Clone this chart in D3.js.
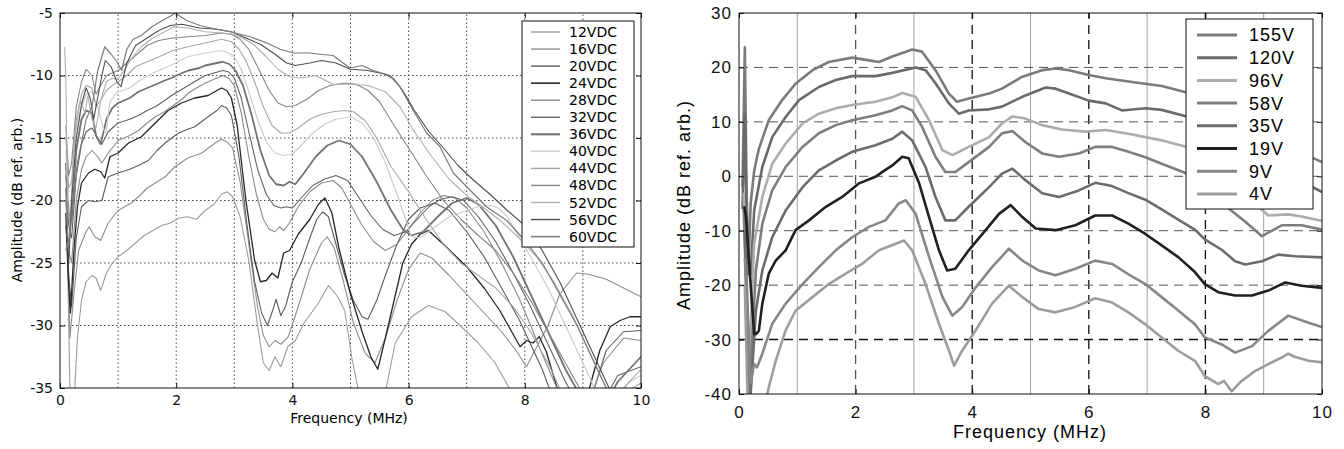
<!DOCTYPE html>
<html>
<head>
<meta charset="utf-8">
<script src="https://cdn.jsdelivr.net/npm/d3@7"></script>
<style>
  body { margin: 0; background: #fff; }
  svg { display: block; }
  .tick text { fill: #111; }
</style>
</head>
<body>
<div id="chart"></div>
<script>
// ---------- data: left panel (frequency MHz, amplitude dB) ----------
const leftNames = ["12VDC", "16VDC", "20VDC", "24VDC", "28VDC", "32VDC", "36VDC",
                   "40VDC", "44VDC", "48VDC", "52VDC", "56VDC", "60VDC"];

const l12 = [[0.12,-22],[0.17,-35],[0.22,-38],[0.3,-31],[0.37,-28],[0.45,-26.5],[0.55,-26],[0.62,-26.2],[0.7,-27.2],[0.8,-25.8],[0.9,-25],[1.0,-24.5],[1.15,-24],[1.3,-23.4],[1.45,-22.8],[1.6,-22.4],[1.75,-22],[1.9,-21.8],[2.05,-21.4],[2.2,-21.3],[2.35,-21.5],[2.5,-20.8],[2.65,-20.3],[2.78,-19.5],[2.88,-19.3],[2.97,-19.7],[3.1,-21.3],[3.25,-24.8],[3.4,-30],[3.5,-33],[3.6,-33.6],[3.7,-32.5],[3.8,-33.3],[3.92,-31.7],[4.05,-31.2],[4.2,-29.8],[4.45,-28.2],[4.62,-26.8],[4.78,-27.7],[4.9,-28.8],[5.02,-32.5],[5.15,-35.5],[5.3,-37],[5.55,-36.5],[5.77,-31.4],[6.05,-29.3],[6.34,-28.4],[6.63,-28.9],[6.91,-30.1],[7.2,-31.4],[7.49,-33],[7.72,-34.9],[7.95,-36.8],[8.4,-38],[9.2,-38],[9.6,-35.8],[10,-34.6]];
const l16 = [[0.12,-20],[0.17,-31],[0.25,-27],[0.32,-24],[0.37,-23.4],[0.45,-22.5],[0.5,-22.1],[0.6,-22.9],[0.7,-23.2],[0.83,-21.8],[1.0,-20.8],[1.15,-20.4],[1.23,-20.2],[1.35,-19.7],[1.5,-19],[1.64,-18.6],[1.81,-18.1],[1.98,-17.3],[2.2,-16.6],[2.44,-16.2],[2.67,-15.4],[2.78,-15.1],[2.87,-15.3],[2.97,-15.8],[3.1,-18.5],[3.25,-23.5],[3.4,-28.5],[3.5,-30.8],[3.6,-31.7],[3.7,-31.2],[3.8,-31.5],[3.93,-30.9],[4.1,-28.5],[4.3,-25.5],[4.5,-23.4],[4.6,-22.9],[4.72,-23.8],[4.88,-26.5],[5.05,-29.8],[5.25,-32.2],[5.42,-33],[5.6,-31],[5.8,-28],[6.0,-25.5],[6.2,-24.2],[6.4,-24.6],[6.7,-26],[7.0,-27.5],[7.3,-29],[7.6,-30.5],[7.85,-32],[8.03,-33.3],[8.15,-32.2],[8.4,-30],[8.6,-27.5],[8.89,-25.8],[9.1,-25.9],[9.4,-26.3],[9.7,-27],[10,-27.7]];
const l20 = [[0.1,-19],[0.15,-26],[0.2,-28.5],[0.28,-23],[0.37,-20.5],[0.49,-20],[0.6,-20.1],[0.72,-20],[0.83,-18.1],[1.0,-17.8],[1.2,-17.5],[1.35,-17.2],[1.52,-16.8],[1.67,-16],[1.81,-15.4],[2.04,-14.6],[2.2,-14.3],[2.32,-14.1],[2.55,-13.3],[2.7,-12.8],[2.78,-12.4],[2.87,-12.6],[2.95,-13.2],[3.08,-16.5],[3.22,-22],[3.35,-26.5],[3.47,-29],[3.57,-30],[3.66,-28.8],[3.72,-27.9],[3.8,-29.2],[3.88,-28.5],[4.0,-26.5],[4.15,-25],[4.3,-23],[4.42,-21.5],[4.52,-20.9],[4.62,-21.3],[4.75,-23.5],[4.9,-26],[5.05,-28],[5.2,-29.3],[5.3,-29.5],[5.45,-28],[5.6,-26],[5.8,-23.5],[6.0,-21.5],[6.2,-20.6],[6.45,-20.2],[6.7,-20.8],[7.0,-22.5],[7.3,-24.5],[7.6,-27],[7.9,-29.5],[8.1,-31.5],[8.3,-33.5],[8.5,-36],[9.0,-37],[9.2,-35],[9.4,-32],[9.7,-30.5],[10,-30.4]];
const l24 = [[0.1,-21],[0.14,-26],[0.18,-29],[0.24,-24],[0.3,-20.5],[0.37,-18.6],[0.49,-17.8],[0.6,-17.5],[0.7,-17.7],[0.77,-18.2],[0.86,-16.5],[1.0,-16.2],[1.18,-15.4],[1.4,-14.9],[1.64,-13.8],[1.86,-12.8],[2.09,-12.2],[2.32,-11.8],[2.55,-11.6],[2.7,-11.2],[2.78,-11.0],[2.87,-11.2],[2.95,-11.8],[3.05,-14],[3.2,-20],[3.35,-24.8],[3.45,-26.5],[3.55,-26.4],[3.65,-25.8],[3.75,-26.2],[3.85,-24.2],[3.95,-24],[4.1,-22.7],[4.3,-21.5],[4.45,-20.3],[4.56,-19.8],[4.68,-21],[4.8,-23.8],[5.0,-27.5],[5.2,-30.5],[5.35,-32.5],[5.47,-33.5],[5.6,-31],[5.75,-28],[5.9,-25],[6.05,-23.5],[6.2,-22.7],[6.34,-22.4],[6.6,-23.5],[7.0,-25.3],[7.3,-27],[7.57,-28.8],[7.75,-30.3],[7.92,-31.7],[8.03,-31.2],[8.14,-31.4],[8.25,-30.9],[8.37,-32.1],[8.55,-34.9],[8.7,-37],[9.0,-37],[9.12,-34.9],[9.29,-32],[9.47,-30.1],[9.64,-29.6],[9.81,-29.3],[10,-29.3]];
const l28 = [[0.1,-20],[0.15,-24],[0.2,-25],[0.28,-20],[0.37,-17.5],[0.45,-16.5],[0.55,-16],[0.65,-16.5],[0.72,-17],[0.83,-16.2],[1.0,-15.2],[1.2,-14.8],[1.35,-14.4],[1.5,-13.8],[1.64,-13.3],[1.8,-12.9],[1.92,-12.5],[2.1,-11.9],[2.21,-11.4],[2.35,-11.0],[2.5,-10.6],[2.65,-10.3],[2.8,-10.0],[2.9,-10.2],[3.0,-10.8],[3.12,-13],[3.25,-16.5],[3.38,-19.5],[3.5,-21.5],[3.6,-22.3],[3.7,-22.5],[3.78,-22.1],[3.85,-22.4],[3.95,-21.8],[4.1,-20.5],[4.3,-19.3],[4.5,-18.6],[4.7,-18.4],[4.85,-19],[5.0,-20.3],[5.2,-22],[5.4,-23.3],[5.6,-24],[5.8,-23.5],[6.0,-22.3],[6.2,-21],[6.4,-20],[6.6,-19.6],[6.8,-19.8],[7.0,-20.6],[7.3,-22.5],[7.6,-25],[7.9,-27.8],[8.1,-30],[8.3,-32.3],[8.6,-35.5],[8.9,-37],[9.15,-35.5],[9.35,-33],[9.7,-31],[10,-31.2]];
const l32 = [[0.1,-18],[0.15,-22],[0.2,-23],[0.28,-18],[0.37,-15.5],[0.45,-14.5],[0.55,-14.2],[0.65,-15],[0.72,-15.5],[0.83,-14.5],[1.0,-13.8],[1.2,-13.5],[1.35,-13.2],[1.5,-12.8],[1.64,-12.5],[1.8,-12],[1.92,-11.6],[2.1,-11.1],[2.21,-10.8],[2.35,-10.4],[2.5,-10.0],[2.65,-9.8],[2.8,-9.6],[2.9,-9.7],[3.0,-10.2],[3.12,-11.8],[3.25,-14.5],[3.4,-17.5],[3.55,-19.5],[3.68,-20.4],[3.8,-20.6],[3.9,-20.5],[4.0,-20.6],[4.15,-19.8],[4.35,-18.8],[4.55,-18.3],[4.75,-18.0],[4.95,-18.4],[5.15,-19.8],[5.35,-21.2],[5.55,-22.3],[5.75,-22.8],[5.95,-22.5],[6.15,-21.5],[6.35,-20.5],[6.55,-19.9],[6.75,-19.7],[6.95,-20],[7.2,-21.3],[7.5,-23.3],[7.8,-25.8],[8.1,-28.5],[8.4,-31.5],[8.7,-34.5],[9.0,-37],[9.3,-36.5],[9.6,-34],[10,-33.3]];
const l36 = [[0.1,-17],[0.15,-21],[0.2,-21.5],[0.28,-16],[0.37,-13.5],[0.45,-12.8],[0.55,-13],[0.62,-14.8],[0.7,-15.5],[0.8,-13.5],[0.9,-12.6],[1.0,-12.2],[1.2,-11.8],[1.35,-11.3],[1.5,-11.0],[1.66,-10.7],[1.8,-10.4],[1.92,-10.2],[2.1,-9.8],[2.21,-9.6],[2.4,-9.4],[2.5,-9.2],[2.7,-9.0],[2.8,-8.9],[2.92,-9.1],[3.02,-9.6],[3.15,-10.8],[3.3,-13.2],[3.45,-16],[3.6,-18],[3.72,-18.7],[3.85,-18.8],[3.95,-18.5],[4.05,-18.7],[4.2,-17.8],[4.4,-16.5],[4.6,-15.6],[4.8,-15.2],[5.0,-15.5],[5.2,-16.5],[5.45,-18.5],[5.7,-20.8],[5.9,-22.3],[6.05,-22.8],[6.25,-22.5],[6.5,-21.3],[6.75,-20.2],[7.0,-19.8],[7.2,-20.3],[7.5,-22],[7.8,-24.5],[8.1,-27.5],[8.4,-30.5],[8.7,-33.5],[9.0,-36],[9.3,-37],[9.6,-34.5],[10,-32.5]];
const l40 = [[0.1,-16],[0.15,-20],[0.2,-20],[0.28,-15],[0.37,-12.5],[0.45,-11.5],[0.55,-11.3],[0.65,-12.5],[0.75,-14.3],[0.79,-14.6],[0.86,-12.1],[0.95,-11.5],[1.0,-11.3],[1.2,-11],[1.37,-10.4],[1.6,-9.8],[1.9,-9.2],[2.2,-8.5],[2.5,-8.2],[2.78,-8.0],[2.9,-8.2],[3.0,-8.5],[3.12,-9.5],[3.25,-11.3],[3.4,-13.5],[3.55,-15.3],[3.7,-16.2],[3.85,-16.4],[4.0,-16.3],[4.15,-15.6],[4.35,-14.6],[4.55,-13.9],[4.75,-13.5],[5.0,-13.3],[5.2,-13.8],[5.4,-15],[5.6,-17],[5.8,-19.5],[5.95,-21.5],[6.05,-22.9],[6.2,-23],[6.4,-22.3],[6.7,-21.3],[7.0,-20.8],[7.2,-20.5],[7.4,-20.4],[7.55,-20.6],[7.7,-21.3],[7.85,-22.5],[8.1,-24.5],[8.4,-27],[8.7,-30],[9.0,-33],[9.25,-35.5],[9.5,-36.5],[9.8,-34.5],[10,-34]];
const l44 = [[0.1,-15],[0.15,-19],[0.2,-18.5],[0.28,-13.5],[0.37,-11.5],[0.45,-10.8],[0.55,-11],[0.62,-12.5],[0.7,-12],[0.8,-11.2],[0.9,-10.8],[1.0,-10.5],[1.15,-10],[1.3,-9.3],[1.5,-8.9],[1.66,-8.6],[1.94,-8.0],[2.2,-7.7],[2.5,-7.4],[2.78,-7.1],[2.95,-7.3],[3.08,-7.9],[3.2,-8.8],[3.35,-10.5],[3.5,-12.5],[3.65,-14],[3.8,-14.6],[3.95,-14.6],[4.1,-14.2],[4.3,-13.5],[4.5,-13.1],[4.7,-12.9],[4.9,-12.8],[5.05,-12.9],[5.25,-13.6],[5.45,-15],[5.7,-17.3],[6.0,-19.3],[6.3,-21.5],[6.6,-23.5],[6.9,-25],[7.2,-26],[7.5,-27],[7.8,-28.5],[8.1,-30.5],[8.4,-33],[8.7,-36],[9.2,-37.5],[9.6,-35.5],[10,-33.5]];
const l48 = [[0.1,-14],[0.15,-18],[0.2,-17],[0.28,-12.5],[0.37,-10.5],[0.45,-9.5],[0.55,-10],[0.62,-11.5],[0.7,-10.8],[0.8,-10],[0.9,-9.8],[1.0,-9.6],[1.15,-9],[1.35,-8.2],[1.5,-7.6],[1.7,-7.2],[1.94,-7.0],[2.2,-6.9],[2.5,-6.8],[2.78,-6.6],[2.95,-6.7],[3.1,-7.1],[3.25,-7.9],[3.4,-9.3],[3.6,-11.2],[3.75,-12.2],[3.9,-12.5],[4.05,-12.4],[4.25,-11.9],[4.45,-11.2],[4.65,-10.8],[4.9,-10.6],[5.1,-10.7],[5.3,-11.2],[5.5,-12.1],[5.75,-14],[6.0,-15.8],[6.3,-18],[6.6,-20],[6.9,-21.5],[7.2,-22.8],[7.5,-24],[7.8,-25.8],[8.1,-28],[8.4,-30.5],[8.7,-33],[9.0,-35.5],[9.3,-37.5],[9.7,-36.5],[10,-35.5]];
const l52 = [[0.08,-7.7],[0.1,-10],[0.13,-20],[0.17,-22],[0.25,-15],[0.35,-12],[0.43,-13],[0.48,-11.6],[0.55,-13.5],[0.62,-14.2],[0.7,-12],[0.8,-10.5],[0.9,-10.2],[1.0,-10.3],[1.1,-9.6],[1.25,-8.5],[1.4,-7.7],[1.6,-7.0],[1.8,-6.5],[1.96,-6.1],[2.2,-6.2],[2.5,-6.5],[2.78,-6.6],[2.95,-6.7],[3.15,-7],[3.35,-7.6],[3.55,-8.5],[3.75,-9.5],[3.95,-10.1],[4.15,-10.2],[4.4,-10],[4.7,-10.7],[5.0,-10.7],[5.3,-10.8],[5.6,-11.3],[5.85,-12.5],[6.1,-14.5],[6.4,-16.5],[6.7,-18.3],[7.0,-19.6],[7.3,-20.6],[7.6,-21.7],[7.9,-23],[8.2,-24.5],[8.5,-26.5],[8.8,-29],[9.1,-32],[9.4,-35],[9.7,-37],[10,-37.5]];
const l56 = [[0.1,-22],[0.15,-25],[0.2,-20],[0.28,-15],[0.37,-12.3],[0.45,-11],[0.52,-11.8],[0.58,-13.5],[0.64,-12],[0.72,-10],[0.78,-8.8],[0.88,-9.3],[0.98,-10.5],[1.05,-10.9],[1.15,-9],[1.3,-7.6],[1.5,-7.0],[1.7,-6.4],[1.9,-6.0],[2.1,-5.9],[2.4,-6.2],[2.7,-6.3],[2.95,-6.5],[3.2,-7.0],[3.45,-7.5],[3.7,-8.3],[3.9,-9.0],[4.05,-9.2],[4.3,-9.0],[4.5,-8.8],[4.75,-9.0],[5.0,-9.5],[5.3,-9.6],[5.6,-9.9],[5.75,-10.3],[5.9,-11.2],[6.1,-12.8],[6.35,-14.5],[6.6,-15.8],[6.85,-17.2],[7.1,-18.3],[7.4,-19.5],[7.7,-20.8],[8.0,-22],[8.3,-24],[8.6,-26.5],[8.9,-29.5],[9.2,-32.5],[9.5,-35.5],[9.8,-37.5],[10,-38]];
const l60 = [[0.1,-24],[0.17,-22.8],[0.3,-17],[0.45,-13.5],[0.55,-12.5],[0.65,-9.6],[0.77,-7.7],[0.88,-8.3],[0.98,-8.9],[1.06,-9.6],[1.15,-7.9],[1.26,-7.1],[1.4,-6.8],[1.58,-6.1],[1.69,-5.8],[1.8,-5.5],[1.92,-5.2],[1.98,-5.0],[2.18,-5.6],[2.41,-6.0],[2.7,-6.3],[2.93,-6.5],[3.27,-6.9],[3.56,-7.4],[3.79,-7.9],[4.02,-8.2],[4.3,-8.2],[4.47,-8.3],[4.7,-8.4],[4.99,-9.4],[5.2,-9.2],[5.39,-9.6],[5.68,-10],[5.85,-10.9],[6.08,-12.8],[6.31,-14.6],[6.54,-15.7],[6.77,-17.8],[7.0,-18.9],[7.34,-20.5],[7.69,-21.6],[8.0,-23.2],[8.3,-25],[8.6,-27.5],[8.9,-30],[9.2,-33],[9.5,-36],[9.8,-38]];

const leftData = [l12, l16, l20, l24, l28, l32, l36, l40, l44, l48, l52, l56, l60];

// ---------- data: right panel ----------
const rightNames = ["155V", "120V", "96V", "58V", "35V", "19V", "9V", "4V"];

const r155 = [[0.06,-2],[0.1,23.7],[0.13,-2],[0.16,-18],[0.2,-5],[0.26,1],[0.34,5],[0.51,10.3],[0.74,14],[0.97,17],[1.26,19.5],[1.54,21],[1.94,21.8],[2.23,21.3],[2.4,21],[2.63,22],[2.97,23.3],[3.14,22.9],[3.37,19.5],[3.6,15.2],[3.74,13.7],[3.94,14.3],[4.29,15.2],[4.51,16.1],[4.86,18.3],[5.2,19.5],[5.43,19.8],[5.66,19.5],[6.0,18.6],[6.29,18.0],[6.68,17.4],[7.25,16.6],[7.68,15.4],[8.2,12.5],[8.8,9],[9.4,5.5],[10,2.6]];
const r120 = [[0.06,-6],[0.1,11.5],[0.14,-15],[0.2,-18],[0.26,-6.3],[0.4,1.7],[0.57,7.2],[0.8,10.9],[1.03,14],[1.37,16.4],[1.66,17.7],[1.94,18.4],[2.34,18.4],[2.63,19.0],[3.03,20],[3.2,19.5],[3.37,17.1],[3.6,13.4],[3.77,11.5],[3.94,12.1],[4.29,12.3],[4.51,12.8],[4.86,14.6],[5.26,16.3],[5.43,16.1],[5.66,15.2],[6.0,13.9],[6.29,13.4],[6.57,12.1],[6.97,12.5],[7.25,12.2],[7.68,11.0],[8.2,8.5],[8.8,4.5],[9.4,0.5],[10,-2.9]];
const r96 = [[0.08,-3],[0.17,-36],[0.26,-12.4],[0.4,-3.8],[0.57,2.3],[0.8,6.0],[1.09,9.7],[1.37,11.5],[1.66,12.5],[1.94,13.1],[2.34,13.7],[2.63,14.5],[2.8,15.3],[3.03,14.6],[3.26,10.3],[3.49,4.8],[3.66,3.9],[3.94,5.4],[4.29,7.2],[4.51,9.7],[4.69,11.0],[4.91,10.6],[5.2,9.4],[5.54,8.6],[5.94,8.2],[6.29,8.5],[6.68,7.8],[7.25,6.6],[7.68,5.4],[8.3,1],[8.9,-5.5],[9.08,-7.2],[9.42,-7.0],[9.65,-7.4],[10,-8.2]];
const r58 = [[0.08,-6],[0.18,-40],[0.29,-17.3],[0.4,-8.7],[0.57,-2.6],[0.8,1.7],[1.09,5.4],[1.37,7.9],[1.66,9.4],[1.94,10.3],[2.34,11.2],[2.63,12.1],[2.8,12.9],[2.97,12.1],[3.14,9.1],[3.37,3.6],[3.54,0.8],[3.71,0.8],[3.94,2.6],[4.29,5.4],[4.51,7.9],[4.69,8.3],[4.91,6.3],[5.2,4.2],[5.49,3.6],[5.83,4.2],[6.11,5.4],[6.4,5.4],[6.68,4.5],[6.97,3.5],[7.25,2.3],[7.68,0.5],[8.1,-3],[8.4,-5.9],[8.68,-8.3],[8.97,-11],[9.31,-9],[9.65,-9],[10,-9.8]];
const r35 = [[0.1,-10],[0.2,-40],[0.29,-24.7],[0.4,-17.3],[0.57,-11.2],[0.8,-6.3],[1.09,-2.0],[1.37,1.1],[1.66,2.9],[1.94,4.5],[2.34,5.7],[2.63,6.9],[2.8,8.2],[2.97,6.6],[3.2,1.7],[3.37,-3.8],[3.54,-8.1],[3.71,-8.1],[3.94,-5.6],[4.29,-2.0],[4.51,0.5],[4.69,1.4],[4.91,-0.7],[5.2,-3.1],[5.49,-3.8],[5.83,-2.6],[6.11,-1.2],[6.4,-1.8],[6.68,-3.1],[6.97,-4.3],[7.25,-6.1],[7.54,-8],[7.82,-9.8],[7.99,-11.6],[8.28,-13.5],[8.51,-15.6],[8.68,-16.2],[8.97,-15.6],[9.25,-14.4],[9.54,-14.7],[10,-14.9]];
const r19 = [[0.09,-5.5],[0.12,-7.5],[0.2,-20],[0.26,-29],[0.29,-29],[0.34,-28.4],[0.4,-23.4],[0.51,-17.9],[0.63,-15.5],[0.8,-13.6],[0.97,-9.9],[1.2,-8.1],[1.49,-5.6],[1.77,-3.8],[2.06,-1.3],[2.34,-0.1],[2.46,0.8],[2.63,2.0],[2.8,3.6],[2.91,3.3],[3.09,-1.3],[3.26,-7.5],[3.43,-13.6],[3.57,-17.3],[3.71,-17.0],[3.94,-13.6],[4.23,-9.9],[4.46,-6.9],[4.66,-5.3],[4.86,-7.5],[5.09,-9.6],[5.43,-9.9],[5.77,-9.0],[6.11,-7.2],[6.4,-7.2],[6.68,-8.7],[6.97,-10.6],[7.25,-12.7],[7.54,-14.9],[7.82,-17.6],[7.99,-19.8],[8.22,-21.3],[8.51,-21.9],[8.8,-21.9],[9.08,-21.0],[9.37,-19.5],[9.65,-20.1],[10,-20.5]];
const r9 = [[0.1,-15],[0.2,-38],[0.26,-34.5],[0.31,-35.1],[0.4,-32.6],[0.57,-27.1],[0.8,-23.4],[1.09,-19.8],[1.37,-16.7],[1.66,-13.6],[1.94,-11.2],[2.23,-9.3],[2.51,-8.1],[2.74,-5.0],[2.86,-4.4],[3.03,-6.9],[3.26,-14.8],[3.49,-22.2],[3.66,-25.6],[3.83,-24.0],[4.06,-20.4],[4.34,-16.7],[4.63,-13.3],[4.86,-15.5],[5.14,-17.3],[5.43,-18.2],[5.77,-17.0],[6.11,-15.5],[6.4,-16.1],[6.68,-18],[6.97,-19.8],[7.25,-22.2],[7.54,-24.7],[7.82,-27.2],[7.99,-29.6],[8.28,-30.9],[8.51,-32.4],[8.8,-31.2],[9.08,-28.4],[9.42,-25.6],[9.77,-26.9],[10,-27.7]];
const r4 = [[0.1,-20],[0.15,-42],[0.45,-42],[0.51,-38.8],[0.63,-33.9],[0.8,-28.3],[0.97,-24.7],[1.26,-22.2],[1.54,-19.8],[1.83,-17.9],[2.11,-16.1],[2.4,-13.6],[2.69,-12.4],[2.83,-11.8],[2.97,-13.6],[3.2,-19.8],[3.43,-27.1],[3.6,-32.0],[3.69,-34.8],[3.83,-32.0],[4.06,-28.3],[4.34,-23.4],[4.63,-20.1],[4.86,-22.2],[5.14,-24.4],[5.43,-25],[5.77,-24.0],[6.11,-22.4],[6.4,-23.2],[6.68,-25],[6.97,-27.2],[7.25,-29.6],[7.54,-32.1],[7.82,-33.9],[7.99,-36.7],[8.22,-38.2],[8.32,-37.6],[8.45,-39.5],[8.62,-37.6],[8.85,-35.8],[9.08,-34.5],[9.31,-33.3],[9.42,-32.6],[9.54,-33.2],[9.77,-33.9],[10,-34.2]];

const rightData = [r155, r120, r96, r58, r35, r19, r9, r4];

// ticks
const leftXTicks = [0, 2, 4, 6, 8, 10];
const leftYTicks = [-35, -30, -25, -20, -15, -10, -5];
const rightXTicks = [0, 2, 4, 6, 8, 10];
const rightYTicks = [-40, -30, -20, -10, 0, 10, 20, 30];

// ---------- styles ----------
const leftColors = ["#9c9c9c", "#8e8e8e", "#5c5c5c", "#262626", "#8a8a8a", "#626262", "#737373",
                    "#cdcdcd", "#a6a6a6", "#868686", "#b0b0b0", "#4e4e4e", "#7a7a7a"];
const leftWidths = [1.1, 1.1, 1.1, 1.3, 1.1, 1.1, 1.8, 1.2, 1.1, 1.1, 1.1, 1.1, 1.2];
const rightColors = ["#7b7b7b", "#6a6a6a", "#acacac", "#7e7e7e", "#6c6c6c", "#202020", "#878787", "#9d9d9d"];

const W = 1344, H = 449;
const svg = d3.select("#chart").append("svg")
    .attr("width", W)
    .attr("height", H);

// ---------- left panel ----------
var xL = d3.scaleLinear().domain([0, 10]).range([60, 641]);
var yL = d3.scaleLinear().domain([-35, -5]).range([388, 13]);

svg.append("clipPath").attr("id", "clipL")
    .append("rect")
    .attr("x", 60).attr("y", 13).attr("width", 581).attr("height", 375);

var gL = svg.append("g").attr("font-family", "'DejaVu Sans', Arial, sans-serif");

// dotted grid
gL.append("g").selectAll("line")
    .data(d3.range(1, 10))
    .enter().append("line")
    .attr("x1", d => xL(d)).attr("x2", d => xL(d))
    .attr("y1", yL(-35)).attr("y2", yL(-5))
    .attr("stroke", "#333").attr("stroke-width", 0.9)
    .attr("stroke-dasharray", "1.5,2.5");

gL.append("g").selectAll("line")
    .data([-30, -25, -20, -15, -10])
    .enter().append("line")
    .attr("x1", xL(0)).attr("x2", xL(10))
    .attr("y1", d => yL(d)).attr("y2", d => yL(d))
    .attr("stroke", "#333").attr("stroke-width", 0.9)
    .attr("stroke-dasharray", "1.5,2.5");

var lineL = d3.line().x(d => xL(d[0])).y(d => yL(d[1]));

gL.append("g").attr("clip-path", "url(#clipL)")
    .selectAll("path")
    .data(leftData)
    .enter().append("path")
    .attr("d", lineL)
    .attr("fill", "none")
    .attr("stroke", (d, i) => leftColors[i])
    .attr("stroke-width", (d, i) => leftWidths[i])
    .attr("stroke-linejoin", "round");

// axes (ticks pointing inward)
function styleAxis(g, size) {
  g.select(".domain").remove();
  g.selectAll(".tick line").attr("stroke", "#111");
  g.selectAll(".tick text").attr("font-size", size);
}

gL.append("g").attr("transform", "translate(0,388)")
    .call(d3.axisBottom(xL).tickValues(leftXTicks).tickSizeInner(-5).tickSizeOuter(0).tickPadding(7))
    .call(g => styleAxis(g, "14px"))
    .attr("font-family", null);
gL.append("g").attr("transform", "translate(0,13)")
    .call(d3.axisTop(xL).tickValues(leftXTicks).tickSizeInner(-5).tickSizeOuter(0).tickFormat(""))
    .call(g => styleAxis(g, "14px"));
gL.append("g").attr("transform", "translate(60,0)")
    .call(d3.axisLeft(yL).tickValues(leftYTicks).tickSizeInner(-5).tickSizeOuter(0).tickPadding(7)
          .tickFormat(d3.format("d")))
    .call(g => styleAxis(g, "14px"))
    .attr("font-family", null);
gL.append("g").attr("transform", "translate(641,0)")
    .call(d3.axisRight(yL).tickValues(leftYTicks).tickSizeInner(-5).tickSizeOuter(0).tickFormat(""))
    .call(g => styleAxis(g, "14px"));

gL.selectAll(".tick text").text(function () { return this.textContent.replace("\u2212", "-"); });

gL.append("rect")
    .attr("x", 60).attr("y", 13).attr("width", 581).attr("height", 375)
    .attr("fill", "none").attr("stroke", "#111").attr("stroke-width", 1);

// titles
gL.append("text")
    .attr("x", 349).attr("y", 423)
    .attr("text-anchor", "middle")
    .attr("font-size", "14px")
    .text("Frequency (MHz)");
gL.append("text")
    .attr("transform", "translate(22,200) rotate(-90)")
    .attr("text-anchor", "middle")
    .attr("font-size", "14px")
    .text("Amplitude (dB ref. arb.)");

// legend
var legL = gL.append("g");
legL.append("rect")
    .attr("x", 522).attr("y", 21).attr("width", 112).attr("height", 226)
    .attr("fill", "#fff").attr("stroke", "#111").attr("stroke-width", 1);
var legLItem = legL.selectAll(".item")
    .data(leftNames)
    .enter().append("g")
    .attr("transform", (d, i) => "translate(0," + (32 + i * 17.05) + ")");
legLItem.append("line")
    .attr("x1", 531).attr("x2", 560)
    .attr("stroke", (d, i) => leftColors[i])
    .attr("stroke-width", (d, i) => leftWidths[i] + 0.3);
legLItem.append("text")
    .attr("x", 569).attr("dy", "0.36em")
    .attr("font-size", "14px")
    .text(d => d);

// ---------- right panel ----------
var xR = d3.scaleLinear().domain([0, 10]).range([739, 1322]);
var yR = d3.scaleLinear().domain([-40, 30]).range([394, 13]);

svg.append("clipPath").attr("id", "clipR")
    .append("rect")
    .attr("x", 739).attr("y", 13).attr("width", 583).attr("height", 381);

var gR = svg.append("g").attr("font-family", "'Liberation Sans', Arial, sans-serif");

// vertical grid: odd solid grey, even dashed dark
gR.append("g").selectAll("line")
    .data(d3.range(1, 10))
    .enter().append("line")
    .attr("x1", d => xR(d)).attr("x2", d => xR(d))
    .attr("y1", yR(-40)).attr("y2", yR(30))
    .attr("stroke", d => d % 2 ? "#a0a0a0" : (d === 2 ? "#555" : "#111"))
    .attr("stroke-width", d => d % 2 ? 1 : 1.3)
    .attr("stroke-dasharray", d => d % 2 ? null : "9,6");

gR.append("g").selectAll("line")
    .data([-30, -20, -10, 0, 10, 20])
    .enter().append("line")
    .attr("x1", xR(0)).attr("x2", xR(10))
    .attr("y1", d => yR(d)).attr("y2", d => yR(d))
    .attr("stroke", d => d === -30 ? "#111" : "#555")
    .attr("stroke-width", d => d === -30 ? 1.4 : 1)
    .attr("stroke-dasharray", "9,6");

var lineR = d3.line().x(d => xR(d[0])).y(d => yR(d[1]));

gR.append("g").attr("clip-path", "url(#clipR)")
    .selectAll("path")
    .data(rightData)
    .enter().append("path")
    .attr("d", lineR)
    .attr("fill", "none")
    .attr("stroke", (d, i) => rightColors[i])
    .attr("stroke-width", 2.6)
    .attr("stroke-linejoin", "round");

gR.append("g").attr("transform", "translate(0,394)")
    .call(d3.axisBottom(xR).tickValues(rightXTicks).tickSizeInner(-5).tickSizeOuter(0).tickPadding(12))
    .call(g => styleAxis(g, "17px"))
    .attr("font-family", null);
gR.append("g").attr("transform", "translate(0,13)")
    .call(d3.axisTop(xR).tickValues(rightXTicks).tickSizeInner(-5).tickSizeOuter(0).tickFormat(""))
    .call(g => styleAxis(g, "17px"));
gR.append("g").attr("transform", "translate(739,0)")
    .call(d3.axisLeft(yR).tickValues(rightYTicks).tickSizeInner(-5).tickSizeOuter(0).tickPadding(7)
          .tickFormat(d3.format("d")))
    .call(g => styleAxis(g, "17px"))
    .attr("font-family", null);
gR.append("g").attr("transform", "translate(1322,0)")
    .call(d3.axisRight(yR).tickValues(rightYTicks).tickSizeInner(-5).tickSizeOuter(0).tickFormat(""))
    .call(g => styleAxis(g, "17px"));

gR.selectAll(".tick text")
    .attr("letter-spacing", "1px")
    .text(function () { return this.textContent.replace("\u2212", "-"); });

gR.append("rect")
    .attr("x", 739).attr("y", 13).attr("width", 583).attr("height", 381)
    .attr("fill", "none").attr("stroke", "#111").attr("stroke-width", 1);

gR.append("text")
    .attr("x", 1030).attr("y", 438)
    .attr("text-anchor", "middle")
    .attr("font-size", "18px")
    .attr("letter-spacing", "1px")
    .text("Frequency (MHz)");
gR.append("text")
    .attr("transform", "translate(690,205) rotate(-90)")
    .attr("text-anchor", "middle")
    .attr("font-size", "18px")
    .attr("letter-spacing", "1px")
    .text("Amplitude (dB ref. arb.)");

var legR = gR.append("g");
legR.append("rect")
    .attr("x", 1186).attr("y", 19).attr("width", 127).attr("height", 190)
    .attr("fill", "#fff").attr("stroke", "#111").attr("stroke-width", 1);
var legRItem = legR.selectAll(".item")
    .data(rightNames)
    .enter().append("g")
    .attr("transform", (d, i) => "translate(0," + (35 + i * 22.7) + ")");
legRItem.append("line")
    .attr("x1", 1197).attr("x2", 1237)
    .attr("stroke", (d, i) => rightColors[i])
    .attr("stroke-width", 3);
legRItem.append("text")
    .attr("x", 1249).attr("dy", "0.36em")
    .attr("font-size", "18px")
    .attr("letter-spacing", "1px")
    .text(d => d);
</script>
</body>
</html>
